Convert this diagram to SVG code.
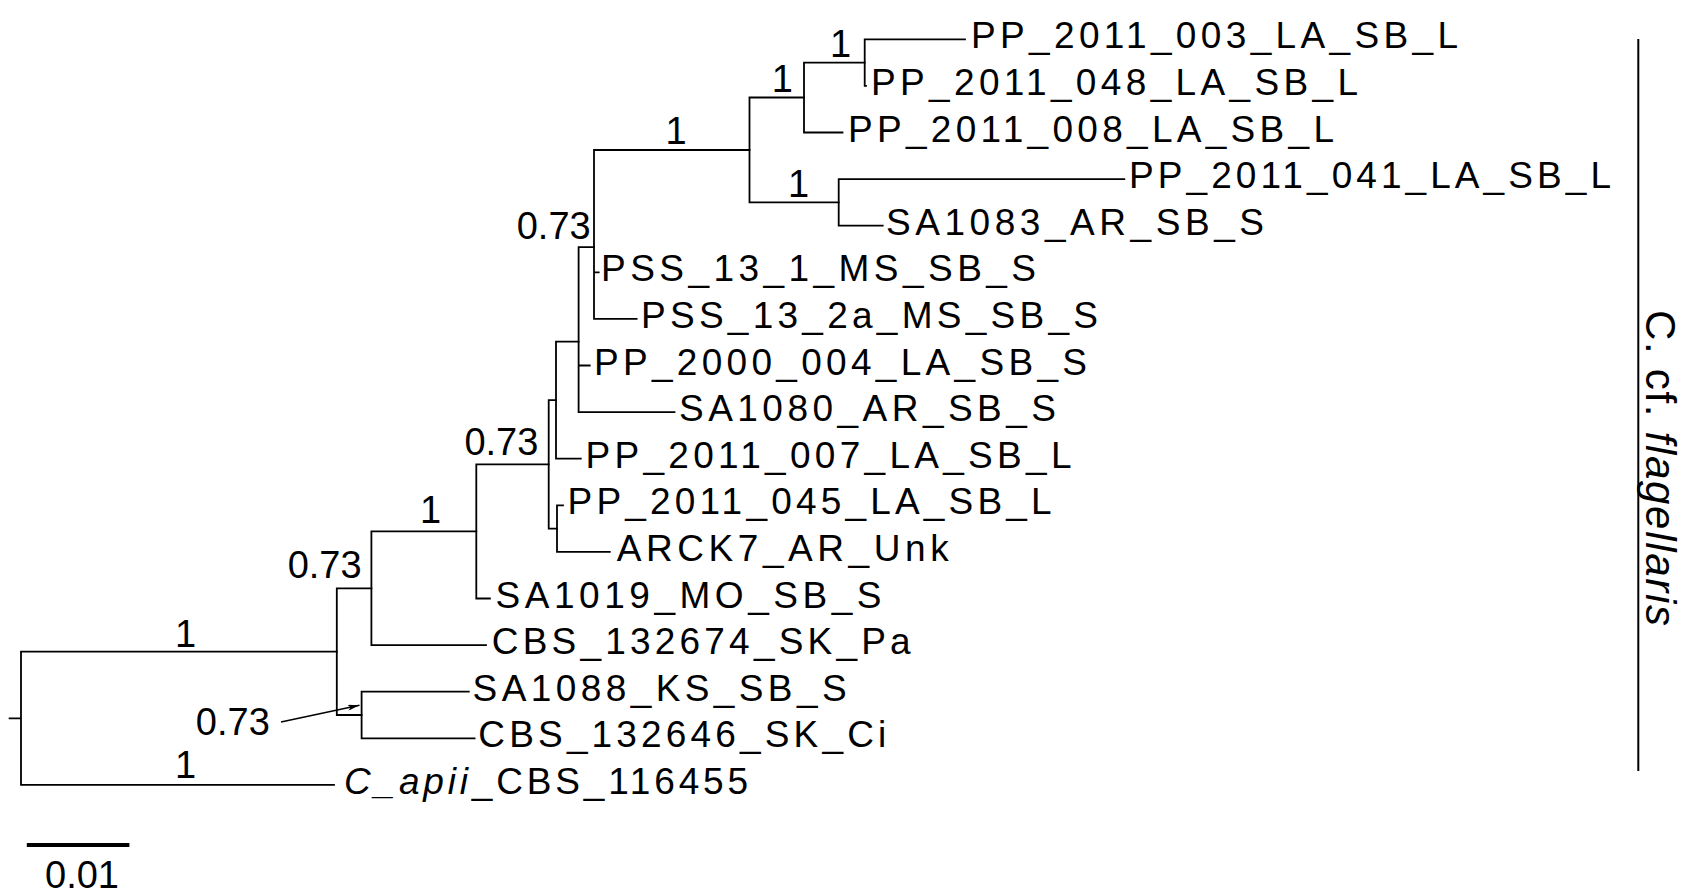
<svg xmlns="http://www.w3.org/2000/svg" width="1684" height="893" viewBox="0 0 1684 893">
<style>
.br{fill:none;stroke:#000;stroke-width:1.8;stroke-linecap:square}
.tx{font-family:"Liberation Sans",Arial,sans-serif;font-size:37px;fill:#000}
.lb{font-family:"Liberation Sans",Arial,sans-serif;font-size:38px;fill:#000}
.it{font-style:italic}
</style>
<defs>
<marker id="ah" viewBox="0 0 12 6" refX="12" refY="3" markerWidth="12" markerHeight="6" markerUnits="userSpaceOnUse" orient="auto">
<path d="M0,0 L12,3 L0,6 L3,3 Z" fill="#000"/>
</marker>
</defs>
<rect width="1684" height="893" fill="#fff"/>
<g id="connectors">
<path class="br" d="M9.6 718.3H21M21 651.6V784.9M21 651.6H336.8M21 784.9H334"/>
<path class="br" d="M336.8 588.3V715M336.8 588.3H371.4M336.8 715H361.6"/>
<path class="br" d="M371.4 531.4V645.1M371.4 531.4H476.3M371.4 645.1H486"/>
<path class="br" d="M476.3 464.4V598.5M476.3 464.4H548.7M476.3 598.5H489.9"/>
<path class="br" d="M548.7 400.1V528.6M548.7 400.1H556M548.7 528.6H557"/>
<path class="br" d="M557 505.3V551.9M557 505.3H563M557 551.9H609.8"/>
<path class="br" d="M556 341.6V458.7M556 341.6H578.6M556 458.7H580.8"/>
<path class="br" d="M578.6 247.1V412.1M578.6 247.1H594M578.6 365.5H589.7M578.6 412.1H674.5"/>
<path class="br" d="M594 150V318.9M594 150H749.5M594 272.3H598.7M594 318.9H636.6"/>
<path class="br" d="M749.5 97.5V202.4M749.5 97.5H804M749.5 202.4H838.7"/>
<path class="br" d="M804 62.6V132.5M804 62.6H864.7M804 132.5H842.5"/>
<path class="br" d="M864.7 39.3V85.9M864.7 39.3H965M864.7 85.9H866"/>
<path class="br" d="M838.7 179.1V225.7M838.7 179.1H1124.3M838.7 225.7H882.7"/>
<path class="br" d="M361.6 691.7V738.3M361.6 691.7H468.8M361.6 738.3H474.6"/>
<path d="M281 722L359.5 705.3" fill="none" stroke="#000" stroke-width="1.5" marker-end="url(#ah)"/>
</g>
<g id="taxa">
<g id="t-PP_2011_003"><text class="tx" x="971" y="48.3" textLength="487">PP_2011_003_LA_SB_L</text></g>
<g id="t-PP_2011_048"><text class="tx" x="871" y="94.9" textLength="487">PP_2011_048_LA_SB_L</text></g>
<g id="t-PP_2011_008"><text class="tx" x="848" y="141.5" textLength="486">PP_2011_008_LA_SB_L</text></g>
<g id="t-PP_2011_041"><text class="tx" x="1129" y="188.1" textLength="482">PP_2011_041_LA_SB_L</text></g>
<g id="t-SA1083"><text class="tx" x="886" y="234.7" textLength="378">SA1083_AR_SB_S</text></g>
<g id="t-PSS_13_1"><text class="tx" x="601" y="281.3" textLength="435">PSS_13_1_MS_SB_S</text></g>
<g id="t-PSS_13_2a"><text class="tx" x="641" y="327.9" textLength="457">PSS_13_2a_MS_SB_S</text></g>
<g id="t-PP_2000_004"><text class="tx" x="594" y="374.5" textLength="493">PP_2000_004_LA_SB_S</text></g>
<g id="t-SA1080"><text class="tx" x="679" y="421.1" textLength="377">SA1080_AR_SB_S</text></g>
<g id="t-PP_2011_007"><text class="tx" x="585.5" y="467.7" textLength="486">PP_2011_007_LA_SB_L</text></g>
<g id="t-PP_2011_045"><text class="tx" x="567.6" y="514.3" textLength="484">PP_2011_045_LA_SB_L</text></g>
<g id="t-ARCK7"><text class="tx" x="616.7" y="560.9" textLength="332">ARCK7_AR_Unk</text></g>
<g id="t-SA1019"><text class="tx" x="495.5" y="607.5" textLength="386">SA1019_MO_SB_S</text></g>
<g id="t-CBS_132674"><text class="tx" x="491.7" y="654.1" textLength="419">CBS_132674_SK_Pa</text></g>
<g id="t-SA1088"><text class="tx" x="472.6" y="700.7" textLength="374">SA1088_KS_SB_S</text></g>
<g id="t-CBS_132646"><text class="tx" x="478.3" y="747.3" textLength="408">CBS_132646_SK_Ci</text></g>
<g id="t-C_apii"><text class="tx" x="344" y="793.9" textLength="404"><tspan class="it">C_apii</tspan>_CBS_116455</text></g>
</g>
<g id="supports">
<g id="s-A"><text class="lb" x="840.6" y="57.3" text-anchor="middle">1</text></g>
<g id="s-B"><text class="lb" x="782.4" y="91.7" text-anchor="middle">1</text></g>
<g id="s-C"><text class="lb" x="676" y="144" text-anchor="middle">1</text></g>
<g id="s-D"><text class="lb" x="798.5" y="196.7" text-anchor="middle">1</text></g>
<g id="s-E"><text class="lb" x="590.7" y="239.3" text-anchor="end">0.73</text></g>
<g id="s-H"><text class="lb" x="538.4" y="455" text-anchor="end">0.73</text></g>
<g id="s-J"><text class="lb" x="430.5" y="523.3" text-anchor="middle">1</text></g>
<g id="s-L"><text class="lb" x="361.6" y="578.3" text-anchor="end">0.73</text></g>
<g id="s-K"><text class="lb" x="185.6" y="646.7" text-anchor="middle">1</text></g>
<g id="s-M"><text class="lb" x="269.8" y="735" text-anchor="end">0.73</text></g>
<g id="s-out"><text class="lb" x="185.6" y="778.3" text-anchor="middle">1</text></g>
</g>
<g id="clade">
<path d="M1638.3 39V771" stroke="#000" stroke-width="2" fill="none"/>
<text class="lb" transform="translate(1646,310) rotate(90)" textLength="316" style="font-size:42px">C. cf. <tspan class="it">flagellaris</tspan></text>
</g>
<g id="scalebar">
<path d="M26.8 845H129.4" stroke="#000" stroke-width="4" fill="none"/>
<text class="lb" x="82" y="888" text-anchor="middle">0.01</text>
</g>
</svg>
